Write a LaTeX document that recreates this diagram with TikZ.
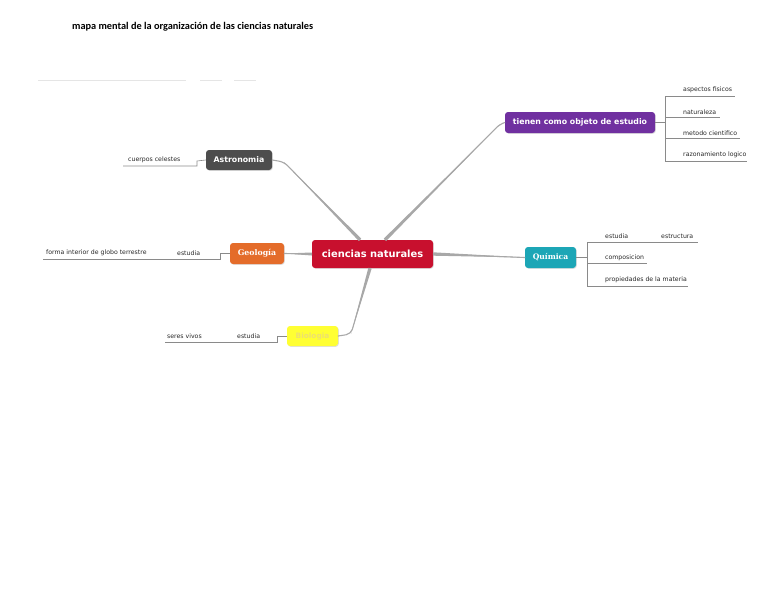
\documentclass[tikz,border=0pt]{standalone}
\usepackage{fontspec}
\setmainfont{DejaVu Sans}
\newfontfamily\titlefont{Carlito}
\newfontfamily\serifbold{DejaVu Serif}
\usetikzlibrary{shadows,calc}
\definecolor{cred}{HTML}{C8102E}
\definecolor{cpurple}{HTML}{7030A0}
\definecolor{cdark}{HTML}{4D4D4D}
\definecolor{corange}{HTML}{E46C2A}
\definecolor{cteal}{HTML}{1CA6B6}
\definecolor{cyellow}{HTML}{FFFF33}
\definecolor{cyeltext}{HTML}{EDE070}
\definecolor{cbranch}{HTML}{A8A8A8}
\definecolor{csub}{HTML}{8A8A8A}
\tikzset{
  topic/.style={rounded corners=3pt, text=white, inner sep=0pt, align=center,
    font=\bfseries\fontsize{7.8}{9}\selectfont,
    drop shadow={shadow xshift=0.8pt, shadow yshift=-0.8pt, opacity=0.25}},
  branch/.style={draw=cbranch, line width=1.1pt, rounded corners=5pt, line cap=round},
  taper/.style={fill=cbranch},
  sub/.style={draw=csub, line width=0.6pt},
  lbl/.style={anchor=west, inner sep=0pt, font=\fontsize{6.2}{7}\selectfont, text=black!85},
}
\begin{document}
\begin{tikzpicture}[x=1pt, y=-1pt]
\useasboundingbox (0,0) rectangle (768,594);
% title
\node[anchor=west, inner sep=0pt, font=\titlefont\bfseries\fontsize{10.3}{12}\selectfont] (title) at (72,27) {mapa mental de la organización de las ciencias naturales};
% faint lines
\draw[black!10, line width=0.6pt] (38,80) -- (186,80);
\draw[black!10, line width=0.6pt] (200,80) -- (222,80);
\draw[black!10, line width=0.6pt] (234,80) -- (256,80);
% nodes
\node[topic, fill=cred, minimum width=121pt, minimum height=28pt, font=\bfseries\fontsize{9.9}{11}\selectfont] (c) at (372.5,254) {ciencias naturales};
\node[topic, fill=cpurple, minimum width=150pt, minimum height=21pt] (ti) at (580,122.5) {tienen como objeto de estudio};
\node[topic, fill=cdark, minimum width=66pt, minimum height=20pt] (as) at (239,160) {Astronomia};
\node[topic, fill=corange, minimum width=54pt, minimum height=21pt, font=\serifbold\bfseries\fontsize{7.8}{9}\selectfont] (ge) at (257,253.5) {Geología};
\node[topic, fill=cteal, minimum width=51pt, minimum height=21pt, font=\serifbold\bfseries\fontsize{7.6}{9}\selectfont] (qu) at (550.5,257.5) {Química};
\node[topic, fill=cyellow, text=cyeltext, minimum width=51pt, minimum height=20pt, font=\bfseries\fontsize{7.4}{9}\selectfont] (bi) at (312.5,336) {Biologia};
% branch points
\coordinate (sA) at ([xshift=-12.5pt]c.north);
\coordinate (wA) at (284,162);
\coordinate (sT) at ([xshift=12.5pt]c.north);
\coordinate (wT) at (500,124);
\coordinate (sB) at ([xshift=-2.5pt]c.south);
\coordinate (wB) at (351,334);
% tapers
\fill[taper] ($(sA)!1.7pt!90:(wA)$) -- ($(sA)!1.7pt!-90:(wA)$) -- (wA) -- cycle;
\fill[taper] ($(sT)!1.7pt!90:(wT)$) -- ($(sT)!1.7pt!-90:(wT)$) -- (wT) -- cycle;
\fill[taper] ($(sB)!1.7pt!90:(wB)$) -- ($(sB)!1.7pt!-90:(wB)$) -- (wB) -- cycle;
\fill[taper] ($(c.west)!1.5pt!90:(ge.east)$) -- ($(c.west)!1.5pt!-90:(ge.east)$) -- (ge.east) -- cycle;
\fill[taper] ($(c.east)!1.7pt!90:(qu.west)$) -- ($(c.east)!1.7pt!-90:(qu.west)$) -- (qu.west) -- cycle;
% main branches
\draw[branch] (sA) -- (wA) -- (as.east);
\draw[branch] (sT) -- (wT) -- (ti.west);
\draw[branch] (c.west) -- (ge.east);
\draw[branch] (c.east) -- (qu.west);
\draw[branch] (sB) -- (wB) -- (bi.east);
% tienen sub-branches
\coordinate (tj) at (665,122.5);
\draw[sub] (ti.east) -- (tj);
\draw[sub] (665,96) -- (665,161);
\draw[sub] (665,96) -- (735,96);
\draw[sub] (665,117) -- (720,117);
\draw[sub] (665,138) -- (740,138);
\draw[sub] (665,161) -- (747,161);
\node[lbl] (t1) at (683,90) {aspectos fisicos};
\node[lbl] (t2) at (683,112) {naturaleza};
\node[lbl] (t3) at (683,133) {metodo cientifico};
\node[lbl] (t4) at (683,155) {razonamiento logico};
% astronomia
\draw[sub] (as.west) -- (197,161) -- (197,166) -- (123,166);
\node[lbl] (a1) at (128,160) {cuerpos celestes};
% geologia
\draw[sub] (ge.west) -- (220,253.5) -- (220,259) -- (43,259);
\node[lbl] (g1) at (177,253) {estudia};
\node[lbl] (g2) at (46,253) {forma interior de globo terrestre};
% quimica
\draw[sub] (qu.east) -- (587,257.5);
\draw[sub] (587,242) -- (587,286);
\draw[sub] (587,242) -- (698,242);
\draw[sub] (587,263) -- (647,263);
\draw[sub] (587,286) -- (688,286);
\node[lbl] (q1) at (605,236) {estudia};
\node[lbl] (q2) at (661,236) {estructura};
\node[lbl] (q3) at (605,258) {composicion};
\node[lbl] (q4) at (605,280) {propiedades de la materia};
% biologia
\draw[sub] (bi.west) -- (277,336) -- (277,342) -- (165,342);
\node[lbl] (b1) at (237,336) {estudia};
\node[lbl] (b2) at (167,336) {seres vivos};
\end{tikzpicture}
\end{document}
